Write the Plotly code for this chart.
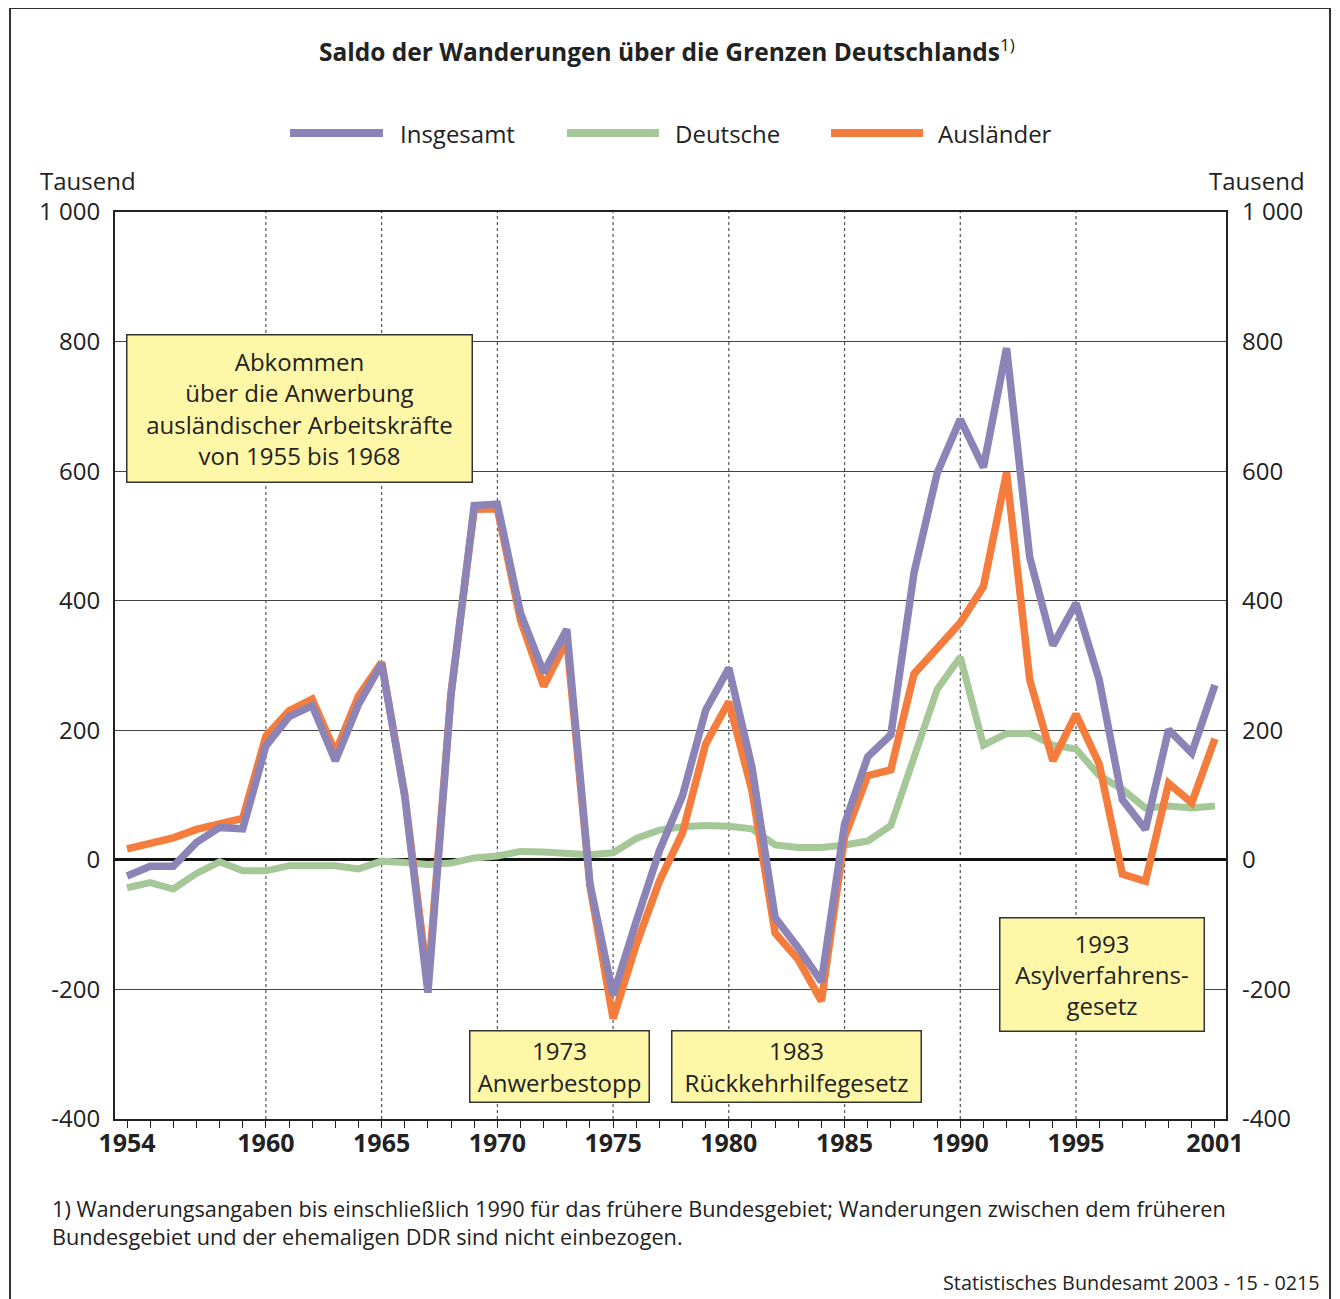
import plotly.graph_objects as go

years = list(range(1954, 2002))

insgesamt = [-25, -10, -10, 27, 50, 48, 176, 221, 238, 153, 240, 303, 98, -205, 256, 547,
             549, 381, 289, 356, -37, -209, -95, 14, 99, 231, 296, 143, -89, -136, -188, 55,
             159, 193, 443, 597, 680, 606, 790, 467, 331, 396, 278, 93, 47, 201, 165, 270]
deutsche = [-43, -35, -45, -21, -3, -17, -17, -9, -9, -9, -14, -2, -4, -7, -5, 3,
            6, 13, 12, 11, 8, 11, 33, 46, 51, 53, 52, 48, 23, 19, 19, 23,
            29, 53, 154, 263, 313, 177, 195, 195, 177, 171, 130, 109, 80, 83, 80, 83]
auslaender = [17, 27, 34, 47, 55, 64, 191, 230, 248, 166, 253, 305, 100, -190, 258, 541,
              542, 370, 268, 339, -40, -245, -131, -33, 42, 179, 244, 107, -113, -154, -218, 35,
              130, 139, 287, 328, 366, 422, 598, 278, 153, 225, 148, -22, -33, 118, 88, 187]

x_labels = [1954, 1960, 1965, 1970, 1975, 1980, 1985, 1990, 1995, 2001]
grid_years = [1960, 1965, 1970, 1975, 1980, 1985, 1990, 1995]
y_ticks = [-400, -200, 0, 200, 400, 600, 800, 1000]
y_text = ["-400", "-200", "0", "200", "400", "600", "800", "1 000"]

PURPLE = "#8C84B7"
GREEN = "#A6C797"
ORANGE = "#F47C3C"
FONT = "Open Sans"
TXT = "#222222"

fig = go.Figure()
fig.add_trace(go.Scatter(x=years, y=deutsche, mode="lines", name="Deutsche",
                         line=dict(color=GREEN, width=7)))
fig.add_trace(go.Scatter(x=years, y=auslaender, mode="lines", name="Ausländer",
                         line=dict(color=ORANGE, width=7.5)))
fig.add_trace(go.Scatter(x=years, y=insgesamt, mode="lines", name="Insgesamt",
                         line=dict(color=PURPLE, width=7.5)))
# invisible trace so the right axis is drawn
fig.add_trace(go.Scatter(x=[years[0]], y=[0], yaxis="y2", mode="markers",
                         marker=dict(opacity=0), showlegend=False, hoverinfo="skip"))

shapes = []
for gy in grid_years:
    shapes.append(dict(type="line", xref="x", yref="paper", x0=gy, x1=gy, y0=0, y1=1,
                       line=dict(color="#555555", width=1.2, dash="dot"), layer="below"))
# outer frame
shapes.append(dict(type="rect", xref="paper", yref="paper", x0=-0.0945, x1=1.0936,
                   y0=-0.35, y1=1.2249, line=dict(color="#333333", width=2)))

# hand-made legend with long swatches
legend_items = [("Insgesamt", PURPLE, 0.1575, 0.2412, 0.2547),
                ("Deutsche", GREEN, 0.4068, 0.4896, 0.5023),
                ("Ausländer", ORANGE, 0.6445, 0.7273, 0.7390)]
annotations = []
for name, col, x0, x1, xt in legend_items:
    shapes.append(dict(type="line", xref="paper", yref="paper", x0=x0, x1=x1,
                       y0=1.0871, y1=1.0871, line=dict(color=col, width=8)))
    annotations.append(dict(text=name, xref="paper", yref="paper", x=xt, y=1.0871,
                            xanchor="left", yanchor="middle", showarrow=False,
                            font=dict(family=FONT, size=24, color=TXT)))

annotations.append(dict(text="<b>Saldo der Wanderungen über die Grenzen Deutschlands</b><sup>1)</sup>",
                        xref="paper", yref="paper", x=0.497, y=1.1786, xanchor="center",
                        yanchor="middle", showarrow=False,
                        font=dict(family=FONT, size=24.5, color=TXT)))
annotations.append(dict(text="Tausend", xref="paper", yref="paper", x=-0.0693, y=1.0342,
                        xanchor="left", yanchor="middle", showarrow=False,
                        font=dict(family=FONT, size=24, color=TXT)))
annotations.append(dict(text="Tausend", xref="paper", yref="paper", x=1.0729, y=1.0342,
                        xanchor="right", yanchor="middle", showarrow=False,
                        font=dict(family=FONT, size=24, color=TXT)))

boxes = [
    ("Abkommen<br>über die Anwerbung<br>ausländischer Arbeitskräfte<br>von 1955 bis 1968",
     0.1665, 0.7839, 344, 146),
    ("1973<br>Anwerbestopp", 0.4005, 0.0584, 178, 70),
    ("1983<br>Rückkehrhilfegesetz", 0.6130, 0.0584, 248, 70),
    ("1993<br>Asylverfahrens-<br>gesetz", 0.8888, 0.1588, 203, 112),
]
for txt, bx, by, w, h in boxes:
    annotations.append(dict(text=txt, xref="paper", yref="paper", x=bx, y=by,
                            xanchor="center", yanchor="middle", showarrow=False,
                            width=w, height=h, align="center", valign="middle",
                            bgcolor="#FFF7A8", bordercolor="#333333", borderwidth=1.5,
                            borderpad=0, font=dict(family=FONT, size=24, color=TXT)))

annotations.append(dict(text="1) Wanderungsangaben bis einschließlich 1990 für das frühere Bundesgebiet; "
                             "Wanderungen zwischen dem früheren<br>Bundesgebiet und der ehemaligen DDR "
                             "sind nicht einbezogen.",
                        xref="paper", yref="paper", x=-0.0585, y=-0.1136, xanchor="left",
                        yanchor="middle", align="left", showarrow=False,
                        font=dict(family=FONT, size=21.7, color=TXT)))
annotations.append(dict(text="Statistisches Bundesamt 2003 - 15 - 0215", xref="paper", yref="paper",
                        x=1.0864, y=-0.1805, xanchor="right", yanchor="middle", showarrow=False,
                        font=dict(family=FONT, size=19.8, color=TXT)))

# page body adds 8px margin, so the figure is a little smaller and shifted
fig.update_layout(
    width=1332, height=1291,
    margin=dict(l=107, r=114, t=204, b=180),
    paper_bgcolor="white", plot_bgcolor="white",
    showlegend=False,
    shapes=shapes, annotations=annotations,
    xaxis=dict(range=[1953.48, 2001.48], tickvals=x_labels, ticks="outside", ticklen=7,
               tickwidth=1, tickcolor="#222", showgrid=False, zeroline=False,
               showline=True, linecolor="#222", linewidth=2, mirror=True,
               ticklabelstandoff=-6,
               tickfont=dict(family=FONT, size=25, color=TXT, weight="bold"),
               minor=dict(dtick=1, tick0=1954, ticks="outside", ticklen=7, tickwidth=1,
                          tickcolor="#222", showgrid=False)),
    yaxis=dict(range=[-400, 1000], tickvals=y_ticks, ticktext=y_text, ticks="",
               ticklabelstandoff=8, showgrid=True, gridcolor="#444444", gridwidth=1.2,
               zeroline=True, zerolinecolor="#111111", zerolinewidth=2.5,
               showline=True, linecolor="#222", linewidth=2, mirror=True,
               tickfont=dict(family=FONT, size=24, color=TXT)),
    yaxis2=dict(range=[-400, 1000], tickvals=y_ticks, ticktext=y_text, ticks="",
                ticklabelstandoff=15, overlaying="y", side="right", showgrid=False,
                zeroline=False, showline=False,
                tickfont=dict(family=FONT, size=24, color=TXT)),
)

fig.write_html("out.html")
